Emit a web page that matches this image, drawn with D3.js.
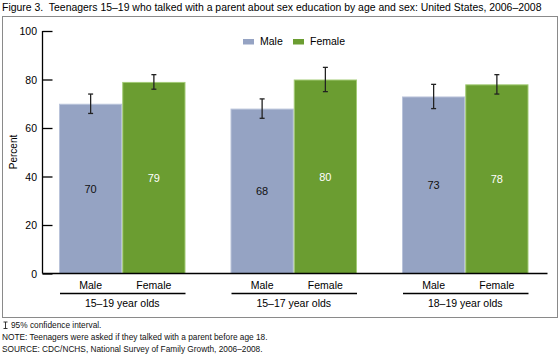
<!DOCTYPE html>
<html><head><meta charset="utf-8">
<script src="https://cdn.jsdelivr.net/npm/d3@7"></script>
<style>body{margin:0;background:#fff}svg{display:block;font-family:Arial,"Liberation Sans",sans-serif}text{white-space:pre}</style>
</head><body>
<svg id="c" width="560" height="356"></svg>
<script>
const groups = ["15–19 year olds","15–17 year olds","18–19 year olds"];
const sexes = ["Male","Female"];
const maleValues = [70,68,73];
const femaleValues = [79,80,78];
const maleLow = [66,64,68];
const maleHigh = [74,72,78];
const femaleLow = [76,75,74];
const femaleHigh = [82,85,82];
const yTicks = [0,20,40,60,80,100];
const title = "Figure 3.  Teenagers 15–19 who talked with a parent about sex education by age and sex: United States, 2006–2008";
const notes = ["95% confidence interval.","NOTE: Teenagers were asked if they talked with a parent before age 18.","SOURCE: CDC/NCHS, National Survey of Family Growth, 2006–2008."];

const colors = {Male:"#95a3c3", Female:"#6b9d31"};
const edge = {Male:"#b9c3da", Female:"#a3cb76"};

const data = groups.map((g,i)=>({group:g, values:[
  {sex:"Male", v:maleValues[i], lo:maleLow[i], hi:maleHigh[i]},
  {sex:"Female", v:femaleValues[i], lo:femaleLow[i], hi:femaleHigh[i]}]}));

const svg = d3.select("#c");
const y = d3.scaleLinear().domain([0,100]).range([273.5,31]);
const x0 = d3.scaleBand().domain(groups).range([36.5,551]).paddingInner(0.2624).paddingOuter(0.1312);
const x1 = d3.scaleBand().domain(sexes).range([0,x0.bandwidth()]);

svg.append("text").attr("x",2).attr("y",11).attr("font-size",10.45).attr("fill","#000").text(title);
svg.append("rect").attr("x",2.5).attr("y",16.5).attr("width",555).attr("height",301).attr("fill","none").attr("stroke","#8a8a8a").attr("stroke-width",1);

// bars
const g = svg.append("g");
const grp = g.selectAll("g.grp").data(data).join("g").attr("transform",d=>`translate(${x0(d.group)},0)`);
grp.selectAll("rect").data(d=>d.values).join("rect")
  .attr("x",d=>x1(d.sex)+0.5).attr("y",d=>y(d.v)+0.5)
  .attr("width",x1.bandwidth()-1).attr("height",d=>y(0)-y(d.v)-0.5)
  .attr("fill",d=>colors[d.sex]).attr("stroke",d=>edge[d.sex]).attr("stroke-width",1);
grp.selectAll("text.val").data(d=>d.values).join("text").attr("class","val")
  .attr("x",d=>x1(d.sex)+x1.bandwidth()/2).attr("y",d=>y(d.v/2)+4)
  .attr("text-anchor","middle").attr("font-size",11)
  .attr("fill",d=>d.sex==="Male"?"#111":"#fff").text(d=>d.v);
// error bars
const eb = grp.selectAll("g.eb").data(d=>d.values).join("g").attr("class","eb")
  .attr("transform",d=>`translate(${x1(d.sex)+x1.bandwidth()/2},0)`);
eb.append("line").attr("x1",0).attr("x2",0).attr("y1",d=>y(d.hi)).attr("y2",d=>y(d.lo)).attr("stroke","#222").attr("stroke-width",1.3);
eb.append("line").attr("x1",-2.5).attr("x2",2.5).attr("y1",d=>y(d.hi)).attr("y2",d=>y(d.hi)).attr("stroke","#222").attr("stroke-width",1.3);
eb.append("line").attr("x1",-2.5).attr("x2",2.5).attr("y1",d=>y(d.lo)).attr("y2",d=>y(d.lo)).attr("stroke","#222").attr("stroke-width",1.3);

// y axis
const ya = svg.append("g").attr("transform","translate(42.5,0)")
  .call(d3.axisRight(y).tickValues(yTicks).tickSize(10).tickFormat(""));
ya.select(".domain").attr("stroke","#000").attr("stroke-width",1.3).attr("d",`M0,${y(100)}V${y(0)}`);
ya.selectAll(".tick line").attr("stroke","#000").attr("stroke-width",1.3);
svg.selectAll("text.yl").data(yTicks).join("text").attr("class","yl")
  .attr("x",37).attr("y",d=>y(d)+4).attr("text-anchor","end").attr("font-size",10.5).text(d=>d);
svg.append("text").attr("transform","translate(17,152) rotate(-90)").attr("text-anchor","middle").attr("font-size",10).text("Percent");

// x axis
const xa = svg.append("g").attr("transform",`translate(0,${y(0)})`)
  .call(d3.axisBottom(x0).tickSize(0).tickFormat(""));
xa.select(".domain").attr("stroke","#000").attr("stroke-width",1.3).attr("d","M42.5,0H547.5");

// sex labels, underline, group labels
grp.selectAll("text.sx").data(d=>d.values).join("text").attr("class","sx")
  .attr("x",d=>x1(d.sex)+x1.bandwidth()/2).attr("y",289).attr("text-anchor","middle").attr("font-size",10.5).text(d=>d.sex);
grp.append("line").attr("x1",1).attr("x2",x0.bandwidth()).attr("y1",293.5).attr("y2",293.5).attr("stroke","#000").attr("stroke-width",1.3);
grp.append("text").attr("x",x0.bandwidth()/2).attr("y",306.5).attr("text-anchor","middle").attr("font-size",10.5).text(d=>d.group);

// legend
const leg = svg.append("g");
const lx = {Male:243, Female:293};
sexes.forEach(s=>{
  leg.append("rect").attr("x",lx[s]).attr("y",39).attr("width",11).attr("height",5.5).attr("fill",colors[s]);
  leg.append("text").attr("x",lx[s]+17).attr("y",45).attr("font-size",10.5).text(s);
});

// footnotes
const fy = [328,340,352];
svg.append("path").attr("d","M3.5,322H7.5M5.5,322V328.5M3.5,328.5H7.5").attr("stroke","#222").attr("fill","none").attr("stroke-width",0.9);
notes.forEach((t,i)=>{
  svg.append("text").attr("x",i===0?11:2).attr("y",fy[i]).attr("font-size",8.3).attr("fill","#111").text(t);
});
</script>
</body></html>
